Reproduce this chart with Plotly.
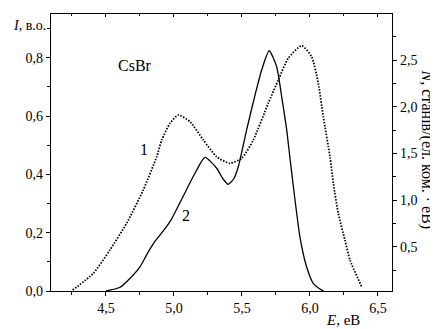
import plotly.graph_objects as go

# Curve 2 (solid): intensity I, left axis
e_spec = [4.50, 4.60, 4.652, 4.75, 4.80, 4.86, 4.92, 4.98, 5.044, 5.167, 5.228, 5.314, 5.36,
          5.399, 5.44, 5.473, 5.534, 5.596, 5.645, 5.70, 5.755, 5.792, 5.829, 5.853, 5.89,
          5.926, 5.975, 6.024, 6.086, 6.10]
i_spec = [0.0, 0.012, 0.032, 0.083, 0.125, 0.170, 0.205, 0.245, 0.303, 0.415, 0.458, 0.421, 0.385,
          0.366, 0.385, 0.426, 0.552, 0.672, 0.758, 0.824, 0.769, 0.666, 0.552, 0.455, 0.312,
          0.186, 0.083, 0.026, 0.003, 0.0]

# Curve 1 (dotted): density of states N, right axis
e_dos = [4.255, 4.407, 4.529, 4.652, 4.774, 4.873, 4.91, 4.971, 5.032, 5.118, 5.216,
         5.314, 5.41, 5.498, 5.583, 5.693, 5.767, 5.84, 5.939, 6.012, 6.061, 6.098,
         6.147, 6.172, 6.208, 6.257, 6.294, 6.38]
n_dos = [0.036, 0.215, 0.465, 0.751, 1.108, 1.464, 1.643, 1.822, 1.911, 1.839, 1.643,
         1.464, 1.394, 1.447, 1.643, 2.036, 2.286, 2.518, 2.653, 2.536, 2.251, 1.893,
         1.464, 1.179, 0.858, 0.572, 0.358, 0.072]

x_ticks = [4.5, 5.0, 5.5, 6.0, 6.5]
x_labels = ["4,5", "5,0", "5,5", "6,0", "6,5"]
yl_ticks = [0.0, 0.2, 0.4, 0.6, 0.8]
yl_labels = ["0,0", "0,2", "0,4", "0,6", "0,8"]
yr_ticks = [0.5, 1.0, 1.5, 2.0, 2.5]
yr_labels = ["0,5", "1,0", "1,5", "2,0", "2,5"]

FONT = "Liberation Serif, Times New Roman, DejaVu Serif, serif"

fig = go.Figure()
fig.add_trace(go.Scatter(x=e_dos, y=n_dos, mode="lines", yaxis="y2",
                         line=dict(color="black", width=1.8, dash="1.5px,1.5px", shape="spline", smoothing=0.6),
                         showlegend=False, hoverinfo="skip"))
fig.add_trace(go.Scatter(x=e_spec, y=i_spec, mode="lines",
                         line=dict(color="black", width=1.3, shape="spline", smoothing=0.6),
                         showlegend=False, hoverinfo="skip"))
fig.add_trace(go.Scatter(x=[4.2], y=[0], xaxis="x2", mode="markers", marker=dict(opacity=0),
                         showlegend=False, hoverinfo="skip"))

tickfont = dict(family=FONT, size=14, color="black")
axis_common = dict(showgrid=False, zeroline=False, showline=True, linecolor="black",
                   linewidth=1.3, ticks="outside", tickcolor="black", tickwidth=1.2,
                   ticklen=4, tickfont=tickfont, automargin=False)

# page body has an 8px margin, so the figure is sized 430x321
fig.update_layout(
    width=430, height=321,
    margin=dict(l=43, r=46, t=6, b=38, autoexpand=False),
    paper_bgcolor="white", plot_bgcolor="white",
    font=dict(family=FONT, color="black"),
    xaxis=dict(range=[4.096, 6.603], tickvals=x_ticks, ticktext=x_labels,
               minor=dict(dtick=0.25, tick0=4.0, ticks="outside", ticklen=2.5, tickcolor="black", tickwidth=1),
               **axis_common),
    xaxis2=dict(range=[4.096, 6.603], overlaying="x", side="top", showgrid=False, zeroline=False,
                showline=True, linecolor="black", linewidth=1.3, ticks="inside", ticklen=3,
                tickcolor="black", tickvals=x_ticks, showticklabels=False, automargin=False,
                minor=dict(dtick=0.25, tick0=4.0, ticks="inside", ticklen=2, tickcolor="black")),
    yaxis=dict(range=[0.0, 0.95], tickvals=yl_ticks, ticktext=yl_labels,
               minor=dict(dtick=0.1, tick0=0, ticks="outside", ticklen=2.5, tickcolor="black", tickwidth=1),
               **axis_common),
    yaxis2=dict(range=[0.026, 2.993], overlaying="y", side="right", anchor="x",
                tickvals=yr_ticks, ticktext=yr_labels,
                minor=dict(dtick=0.25, tick0=0, ticks="outside", ticklen=2.5, tickcolor="black", tickwidth=1),
                **axis_common),
)

ann_font = dict(family=FONT, size=16, color="black")
fig.add_annotation(x=4.71, y=0.775, xref="x", yref="y", text="CsBr", showarrow=False, font=ann_font)
fig.add_annotation(x=4.78, y=0.485, xref="x", yref="y", text="1", showarrow=False, font=ann_font)
fig.add_annotation(x=5.09, y=0.26, xref="x", yref="y", text="2", showarrow=False, font=ann_font)
fig.add_annotation(x=0.0, y=1.0, xref="paper", yref="paper", xanchor="right", yanchor="middle",
                   xshift=-3, yshift=-11, text="<i>I</i>, в.о.", showarrow=False,
                   font=dict(family=FONT, size=14, color="black"))
fig.add_annotation(x=1.0, y=0.0, xref="paper", yref="paper", xanchor="right", yanchor="top",
                   xshift=-30, yshift=-19, text="<i>E</i>, eВ", showarrow=False,
                   font=dict(family=FONT, size=15, color="black"))
fig.add_annotation(x=1.0, y=0.5, xref="paper", yref="paper", xanchor="center", yanchor="middle",
                   xshift=35, yshift=3, text="<i>N</i>, станів/(ел. ком. · eВ)", textangle=90,
                   showarrow=False, font=dict(family=FONT, size=16, color="black"))

fig.write_html("out.html")
